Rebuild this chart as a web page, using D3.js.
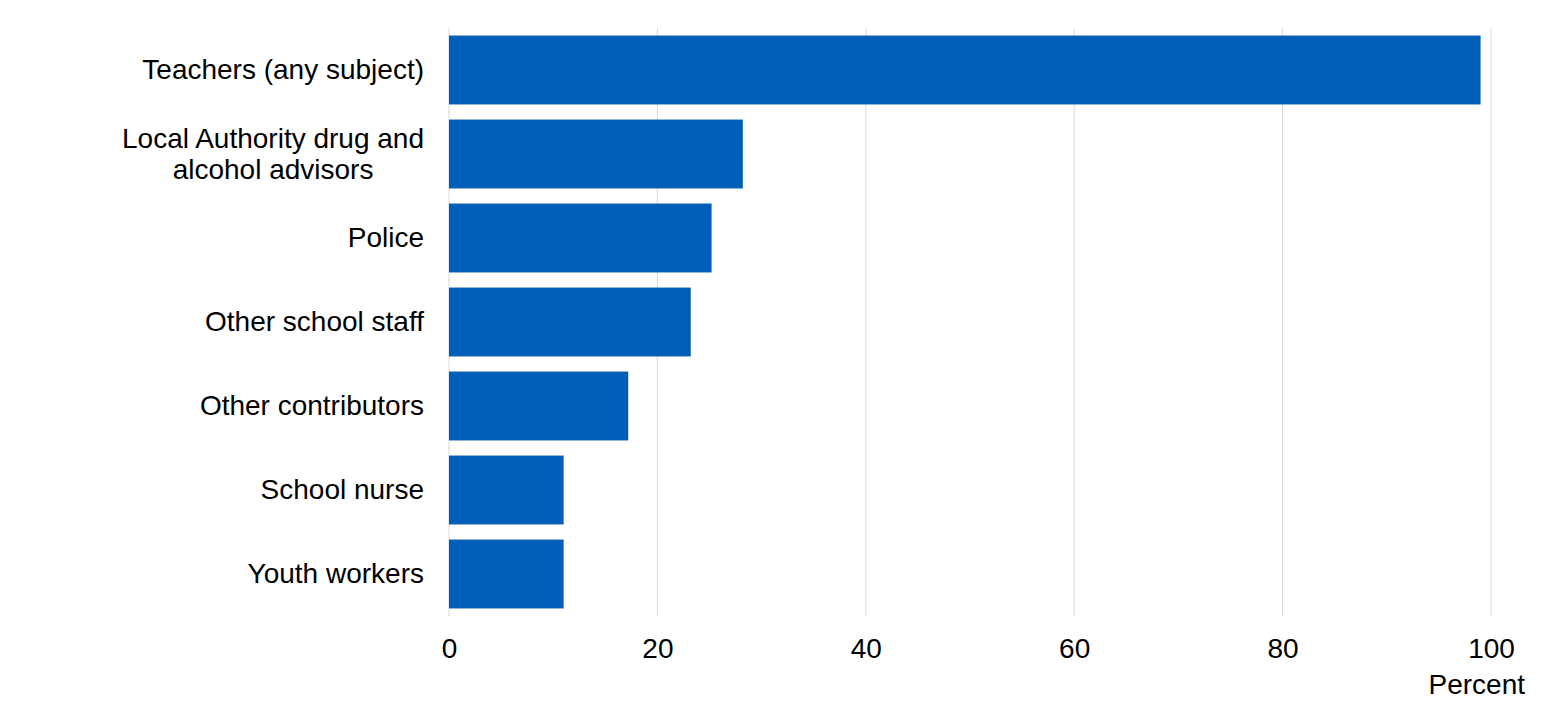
<!DOCTYPE html>
<html>
<head>
<meta charset="utf-8">
<script src="https://cdn.jsdelivr.net/npm/d3@7"></script>
<style>
  body { margin: 0; background: #fff; }
  svg { display: block; font-family: "Liberation Sans", Arial, sans-serif; }
</style>
</head>
<body>
<svg id="chart"></svg>
<script>
const categories = [
  ["Teachers (any subject)"],
  ["Local Authority drug and", "alcohol advisors"],
  ["Police"],
  ["Other school staff"],
  ["Other contributors"],
  ["School nurse"],
  ["Youth workers"]
];
const values = [99.0, 28.2, 25.2, 23.2, 17.2, 11.0, 11.0];
const xTicks = [0, 20, 40, 60, 80, 100];

const svgWidth = 1559, svgHeight = 716;
const margin = { top: 28, right: 68, bottom: 100, left: 449 };
const width = svgWidth - margin.left - margin.right;
const height = svgHeight - margin.top - margin.bottom;
const fontSize = 28;

const svg = d3.select("#chart")
  .attr("width", svgWidth)
  .attr("height", svgHeight);

const g = svg.append("g")
  .attr("transform", `translate(${margin.left},${margin.top})`);

const x = d3.scaleLinear().domain([0, 100]).range([0, width]);
const y = d3.scaleBand()
  .domain(d3.range(categories.length))
  .range([0, height])
  .paddingInner(0.18)
  .paddingOuter(0.09);

// gridlines
g.selectAll("line.grid")
  .data(xTicks)
  .enter().append("line")
  .attr("class", "grid")
  .attr("x1", d => x(d)).attr("x2", d => x(d))
  .attr("y1", 0).attr("y2", height)
  .attr("stroke", "#d9d9d9")
  .attr("stroke-width", 1);

// bars
g.selectAll("rect.bar")
  .data(values)
  .enter().append("rect")
  .attr("class", "bar")
  .attr("x", x(0))
  .attr("y", (d, i) => y(i))
  .attr("width", d => x(d) - x(0))
  .attr("height", y.bandwidth())
  .attr("fill", "#005EB8");

// x axis
const xAxis = g.append("g")
  .attr("transform", `translate(0,${height})`)
  .call(d3.axisBottom(x).tickValues(xTicks).tickSize(0).tickPadding(22));
xAxis.select(".domain").remove();
xAxis.selectAll("text")
  .attr("font-size", fontSize)
  .attr("font-family", "Liberation Sans, Arial, sans-serif")
  .attr("fill", "#000");

g.append("text")
  .attr("x", x(100) + 34)
  .attr("y", height + 78)
  .attr("text-anchor", "end")
  .attr("font-size", fontSize)
  .attr("fill", "#000")
  .text("Percent");

// category labels (multi-line ones are centred on the longest line)
const lineH = 31;
const labelRight = -25;
const labels = g.selectAll("text.cat")
  .data(categories)
  .enter().append("text")
  .attr("class", "cat")
  .attr("font-size", fontSize)
  .attr("fill", "#000")
  .attr("y", (d, i) => y(i) + y.bandwidth() / 2);

labels.each(function(lines) {
  const t = d3.select(this);
  const off = -(lines.length - 1) / 2 * lineH;
  const spans = lines.map((ln, j) => t.append("tspan")
    .attr("dy", j === 0 ? off + 9 : lineH)
    .text(ln));
  if (lines.length === 1) {
    t.attr("text-anchor", "end");
    spans.forEach(s => s.attr("x", labelRight));
  } else {
    const maxW = d3.max(spans, s => s.node().getComputedTextLength());
    t.attr("text-anchor", "middle");
    spans.forEach(s => s.attr("x", labelRight - maxW / 2));
  }
});
</script>
</body>
</html>
